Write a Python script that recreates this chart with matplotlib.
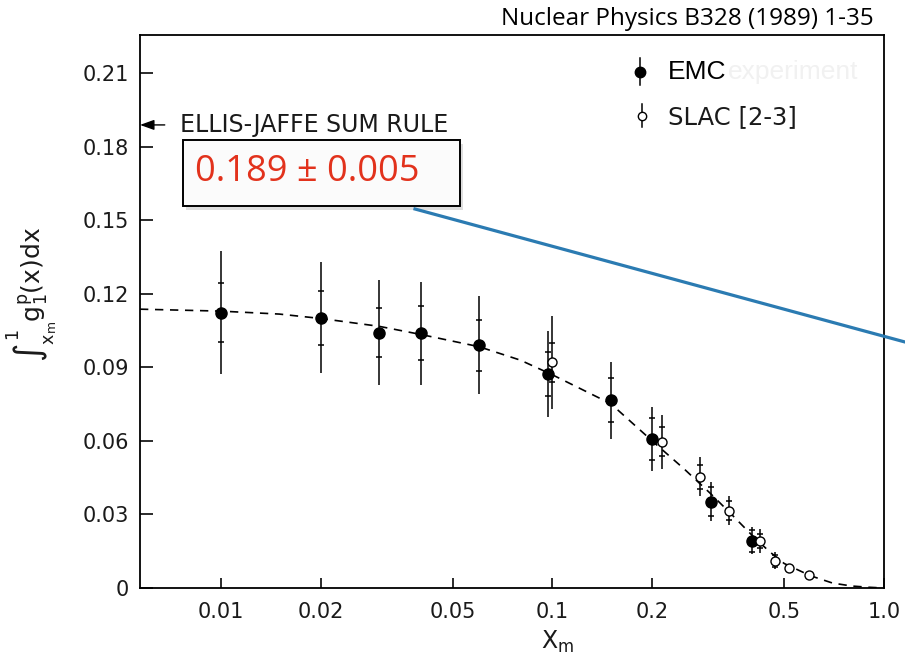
import numpy as np
import matplotlib.pyplot as plt
from matplotlib.lines import Line2D
from matplotlib.patches import Rectangle
import matplotlib.patheffects as pe
from matplotlib.ticker import FixedLocator, FixedFormatter, NullLocator

plt.rcParams['mathtext.default'] = 'regular'

# EMC points: x_m, integral, stat error, total error
emc_x = [0.01, 0.02, 0.03, 0.04, 0.06, 0.097, 0.15, 0.2, 0.3, 0.4]
emc_y = [0.1124, 0.1103, 0.1042, 0.1040, 0.0990, 0.0873, 0.0767, 0.0607, 0.0352, 0.0193]
emc_stat = [0.012, 0.011, 0.010, 0.011, 0.0105, 0.009, 0.009, 0.0085, 0.006, 0.0045]
emc_tot = [0.025, 0.0227, 0.0215, 0.021, 0.020, 0.0175, 0.0157, 0.013, 0.008, 0.0055]

# SLAC [2-3] points
slac_x = [0.10, 0.214, 0.278, 0.341, 0.422, 0.47, 0.517, 0.592]
slac_y = [0.0921, 0.0597, 0.0454, 0.0316, 0.0192, 0.0111, 0.0080, 0.0053]
slac_stat = [0.008, 0.006, 0.005, 0.004, 0.003, 0.0025, 0.0, 0.0]
slac_tot = [0.019, 0.011, 0.008, 0.006, 0.0048, 0.0035, 0.001, 0.0008]

# dashed fit curve
fit_x = [0.0057, 0.01, 0.015, 0.02, 0.03, 0.04, 0.06, 0.08, 0.1, 0.15, 0.2, 0.25,
         0.3, 0.35, 0.4, 0.45, 0.5, 0.6, 0.7, 0.8, 0.9, 1.0]
fit_y = [0.1138, 0.1130, 0.1118, 0.1100, 0.1068, 0.1035, 0.0985, 0.0930, 0.0870,
         0.0752, 0.0600, 0.0485, 0.0385, 0.0295, 0.0215, 0.0150, 0.0100, 0.0050,
         0.0020, 0.0008, 0.0003, 0.0]

xticks = [0.01, 0.02, 0.05, 0.1, 0.2, 0.5, 1.0]
xlabels = ['0.01', '0.02', '0.05', '0.1', '0.2', '0.5', '1.0']
yticks = [0, 0.03, 0.06, 0.09, 0.12, 0.15, 0.18, 0.21]
ylabels = ['0', '0.03', '0.06', '0.09', '0.12', '0.15', '0.18', '0.21']

ellis_jaffe = 0.189

fig = plt.figure(figsize=(9.05, 6.55), dpi=100)
ax = fig.add_axes([140/905, 1-588/655, 744/905, 553/655])

ax.plot(fit_x, fit_y, color='black', lw=1.2, ls=(0, (5, 4)), zorder=2)

# total errors, then stat ticks
ax.errorbar(emc_x, emc_y, yerr=emc_tot, fmt='o', color='black', ms=8,
            elinewidth=1.1, capsize=0, zorder=3)
ax.errorbar(emc_x, emc_y, yerr=emc_stat, fmt='none', ecolor='black',
            elinewidth=0, capsize=2.5, capthick=1.1, zorder=3)
ax.errorbar(slac_x, slac_y, yerr=slac_tot, fmt='o', color='black', mfc='white',
            ms=6.5, mew=1.0, elinewidth=1.1, capsize=0, zorder=4)
ax.errorbar(slac_x, slac_y, yerr=slac_stat, fmt='none', ecolor='black',
            elinewidth=0, capsize=2.5, capthick=1.1, zorder=4)

ax.set_xscale('log')
ax.set_xlim(0.0057, 1.0)
ax.set_ylim(0, 0.2257)
ax.xaxis.set_major_locator(FixedLocator(xticks))
ax.xaxis.set_major_formatter(FixedFormatter(xlabels))
ax.xaxis.set_minor_locator(NullLocator())
ax.set_yticks(yticks)
ax.set_yticklabels(ylabels)
ax.tick_params(axis='both', direction='in', width=1.3, labelsize=15,
               colors='#1a1a1a')
ax.tick_params(axis='y', length=9, pad=8)
ax.tick_params(axis='x', length=7, pad=10)
for s in ax.spines.values():
    s.set_linewidth(1.3)

ax.set_xlabel(r'X$_{m}$', fontsize=17, color='#1a1a1a')
ax.xaxis.set_label_coords((558-140)/744, -0.074)
ax.set_ylabel(r'$\int_{x_m}^{1} g_1^p(x)dx$', fontsize=18, color='#1a1a1a')
ax.yaxis.set_label_coords(-0.107, 0.53)

# legend keys
ax.plot([0.672, 0.672], [0.958, 0.9096], color='black', lw=1.1, transform=ax.transAxes)
ax.plot([0.672], [0.933], 'o', color='black', ms=7.5, transform=ax.transAxes)
ax.plot([0.675, 0.675], [0.8753, 0.8336], color='black', lw=1.1, transform=ax.transAxes)
ax.plot([0.675], [0.8535], 'o', color='black', mfc='white', ms=6, mew=1.0,
        transform=ax.transAxes)
ax.text(0.7097, 0.933, 'EMC', fontsize=19, family='Liberation Sans',
        va='center', ha='left', transform=ax.transAxes)
ax.text(0.7897, 0.933, 'experiment', fontsize=19, family='Liberation Sans',
        color='#f1f1f1', va='center', ha='left', transform=ax.transAxes)
ax.text(0.7097, 0.852, 'SLAC [2-3]', fontsize=17.5, family='DejaVu Sans',
        color='#1a1a1a', va='center', ha='left', transform=ax.transAxes)

# Ellis-Jaffe sum rule arrow
ax.annotate('ELLIS-JAFFE SUM RULE', xy=(0.0, ellis_jaffe),
            xycoords=('axes fraction', 'data'),
            xytext=(0.0538, ellis_jaffe), textcoords=('axes fraction', 'data'),
            fontsize=17, family='DejaVu Sans', color='#1a1a1a', va='center', ha='left',
            arrowprops=dict(arrowstyle='-|>,head_length=0.5,head_width=0.18',
                            color='black', lw=1.0, shrinkA=9, shrinkB=0))

# highlighted value box
box = Rectangle(((183-140)/744, (588-206)/553), (460-183)/744, (206-140)/553,
                transform=ax.transAxes, facecolor='#fbfbfb', edgecolor='black',
                lw=1.4, zorder=6,
                path_effects=[pe.SimplePatchShadow(offset=(2, -3), alpha=0.18),
                              pe.Normal()])
ax.add_patch(box)
ax.text((195-140)/744, (588-172)/553, '0.189 ± 0.005', fontsize=26,
        family='Open Sans', color='#e2321c', va='center', ha='left',
        transform=ax.transAxes, zorder=7)

# pointer line running off the right edge
fig.add_artist(Line2D([415/905, 905/905], [1-209/655, 1-342/655],
                      color='#2b7bb2', lw=2.3))

fig.text(874/905, 1-19/655, 'Nuclear Physics B328 (1989) 1-35', fontsize=17.5,
         family='Open Sans', ha='right', va='center')

fig.savefig('out.png', dpi=100)
